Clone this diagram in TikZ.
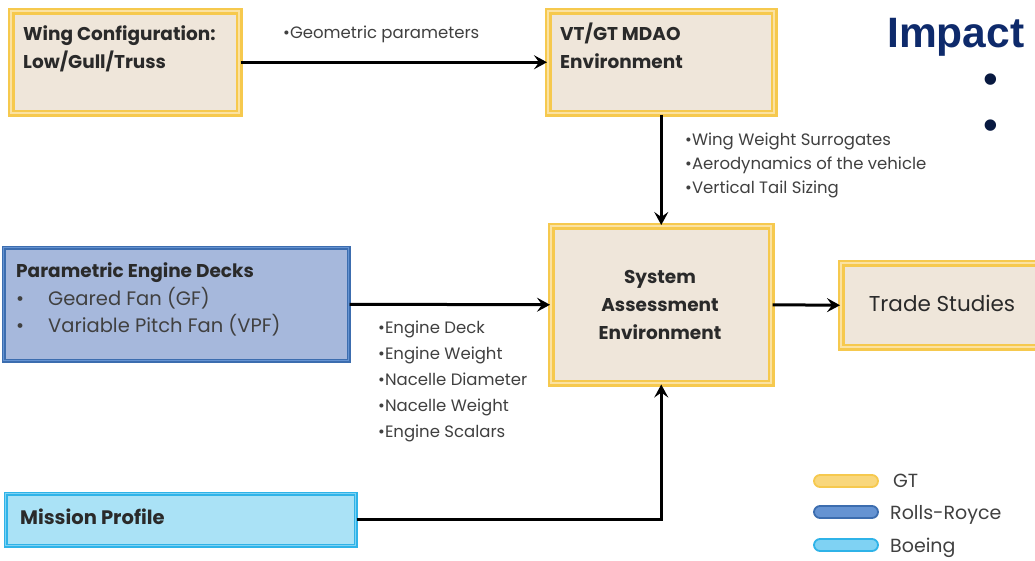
\documentclass[tikz,border=0pt]{standalone}
\usepackage{fontspec}
\setmainfont{Poppins}
\newfontfamily\arialfont{Liberation Sans}
\usetikzlibrary{arrows.meta}

\definecolor{gtfill}{HTML}{EFE6DA}
\definecolor{gtedge}{HTML}{F6C94E}
\definecolor{gtinner}{HTML}{FBE2A2}
\definecolor{rrfill}{HTML}{A6B8DC}
\definecolor{rredge}{HTML}{3C6DAF}
\definecolor{rrinner}{HTML}{6593D2}
\definecolor{bofill}{HTML}{AAE2F6}
\definecolor{boedge}{HTML}{2FB3E8}
\definecolor{boinner}{HTML}{7FD2F3}
\definecolor{boxtext}{HTML}{2A2A2A}
\definecolor{labeltext}{HTML}{404040}
\definecolor{impactblue}{HTML}{0E2A6B}

\tikzset{
  gtbox/.style={rectangle, fill=gtfill, draw=gtedge, double=gtinner,
    double distance=1.6pt, line width=2.5pt, inner sep=0pt},
  rrbox/.style={rectangle, fill=rrfill, draw=rredge, double=rrinner,
    double distance=1.4pt, line width=1.5pt, inner sep=0pt},
  bobox/.style={rectangle, fill=bofill, draw=boedge, double=boinner,
    double distance=1.2pt, line width=1.5pt, inner sep=0pt},
  boxhead/.style={font=\bfseries\fontsize{18.5}{22}\selectfont, text=boxtext,
    inner sep=0pt, text height=13pt, text depth=5pt},
  boxitem/.style={font=\fontsize{19.5}{23}\selectfont, text=labeltext,
    inner sep=0pt, text height=13pt, text depth=5pt},
  flowlabel/.style={font=\fontsize{16.5}{19}\selectfont, text=labeltext,
    inner sep=0pt, text height=11pt, text depth=4pt},
  legendtext/.style={font=\fontsize{19}{22}\selectfont, text=labeltext,
    inner sep=0pt, text height=13pt, text depth=5pt},
  legendbar/.style={rectangle, rounded corners=6pt, minimum width=64pt,
    minimum height=12pt, line width=1.8pt, inner sep=0pt},
  flow/.style={draw=black, line width=3pt,
    -{Stealth[length=13pt, width=14pt, inset=5pt]}},
}

\begin{document}
\begin{tikzpicture}[x=1pt, y=-1pt]
\useasboundingbox[fill=white] (0,0) rectangle (1035,560);

% ---- boxes ----
\node[gtbox, anchor=north west, minimum width=228pt, minimum height=102pt] (wing) at (10,10) {};
\node[gtbox, anchor=north west, minimum width=226pt, minimum height=102pt] (mdao) at (547,10) {};
\node[rrbox, anchor=north west, minimum width=345pt, minimum height=113pt] (engine) at (3,247) {};
\node[gtbox, anchor=north west, minimum width=220pt, minimum height=157pt] (sys) at (550,225) {};
\node[gtbox, anchor=north west, minimum width=205pt, minimum height=84pt] (trade) at (840,262) {};
\node[bobox, anchor=north west, minimum width=350pt, minimum height=52pt] (mission) at (5,493) {};

% ---- box texts ----
\node[boxhead, anchor=west] (wingA) at (23,36) {Wing Configuration:};
\node[boxhead, anchor=west] (wingB) at (23,64) {Low/Gull/Truss};
\node[boxhead, anchor=west] (mdaoA) at (560,36) {VT/GT MDAO};
\node[boxhead, anchor=west] (mdaoB) at (560,64) {Environment};
\node[boxhead, anchor=west] (engA) at (16,273) {Parametric Engine Decks};
\node[boxitem, anchor=west] (engB1) at (16,301) {•};
\node[boxitem, anchor=west] (engB) at (48,301) {Geared Fan (GF)};
\node[boxitem, anchor=west] (engC1) at (16,328) {•};
\node[boxitem, anchor=west] (engC) at (48,328) {Variable Pitch Fan (VPF)};
\node[boxhead] (sysA) at (660,279) {System};
\node[boxhead] (sysB) at (660,307) {Assessment};
\node[boxhead] (sysC) at (660,335) {Environment};
\node[boxitem, font=\fontsize{21.5}{25}\selectfont, text=boxtext] (tradeT) at (942,307) {Trade Studies};
\node[boxhead, font=\bfseries\fontsize{19.5}{23}\selectfont, anchor=west] (missT) at (20,520) {Mission Profile};

% ---- connectors ----
\draw[flow] (wing.east) -- (mdao.west);
\draw[flow] (mdao.south) -- (sys.north);
\draw[flow] (engine.east) -- (sys.west);
\draw[flow] (sys.east) -- (trade.west);
\draw[flow] (mission.east) -| (sys.south);

% ---- connector labels ----
\node[flowlabel, anchor=west] (geo) at (283,35) {•Geometric parameters};
\node[flowlabel, anchor=west] (mdaoL1) at (685,142) {•Wing Weight Surrogates};
\node[flowlabel, anchor=west] (mdaoL2) at (685,166) {•Aerodynamics of the vehicle};
\node[flowlabel, anchor=west] (mdaoL3) at (685,190) {•Vertical Tail Sizing};
\node[flowlabel, anchor=west] (engL1) at (378,330) {•Engine Deck};
\node[flowlabel, anchor=west] (engL2) at (378,356) {•Engine Weight};
\node[flowlabel, anchor=west] (engL3) at (378,382) {•Nacelle Diameter};
\node[flowlabel, anchor=west] (engL4) at (378,408) {•Nacelle Weight};
\node[flowlabel, anchor=west] (engL5) at (378,434) {•Engine Scalars};

% ---- heading at the right ----
\node[font=\arialfont\bfseries\fontsize{42.5}{48}\selectfont, text=impactblue, anchor=base west, inner sep=0pt] (impact) at (887,47) {Impact};
\node[font=\arialfont\fontsize{42}{46}\selectfont, text=impactblue!60!black, inner sep=0pt] (dotA) at (991,84) {•};
\node[font=\arialfont\fontsize{42}{46}\selectfont, text=impactblue!60!black, inner sep=0pt] (dotB) at (991,130) {•};

% ---- legend ----
\node[legendbar, fill=gtinner!55!gtedge, draw=gtedge] (legGT) at (846,481) {};
\node[legendbar, fill=rrinner, draw=rredge] (legRR) at (846,512) {};
\node[legendbar, fill=boinner, draw=boedge] (legBO) at (846,545) {};
\node[legendtext, anchor=west] (legGTt) at (893,483) {GT};
\node[legendtext, anchor=west] (legRRt) at (890,515) {Rolls-Royce};
\node[legendtext, anchor=west] (legBOt) at (890,548) {Boeing};
\end{tikzpicture}
\end{document}
